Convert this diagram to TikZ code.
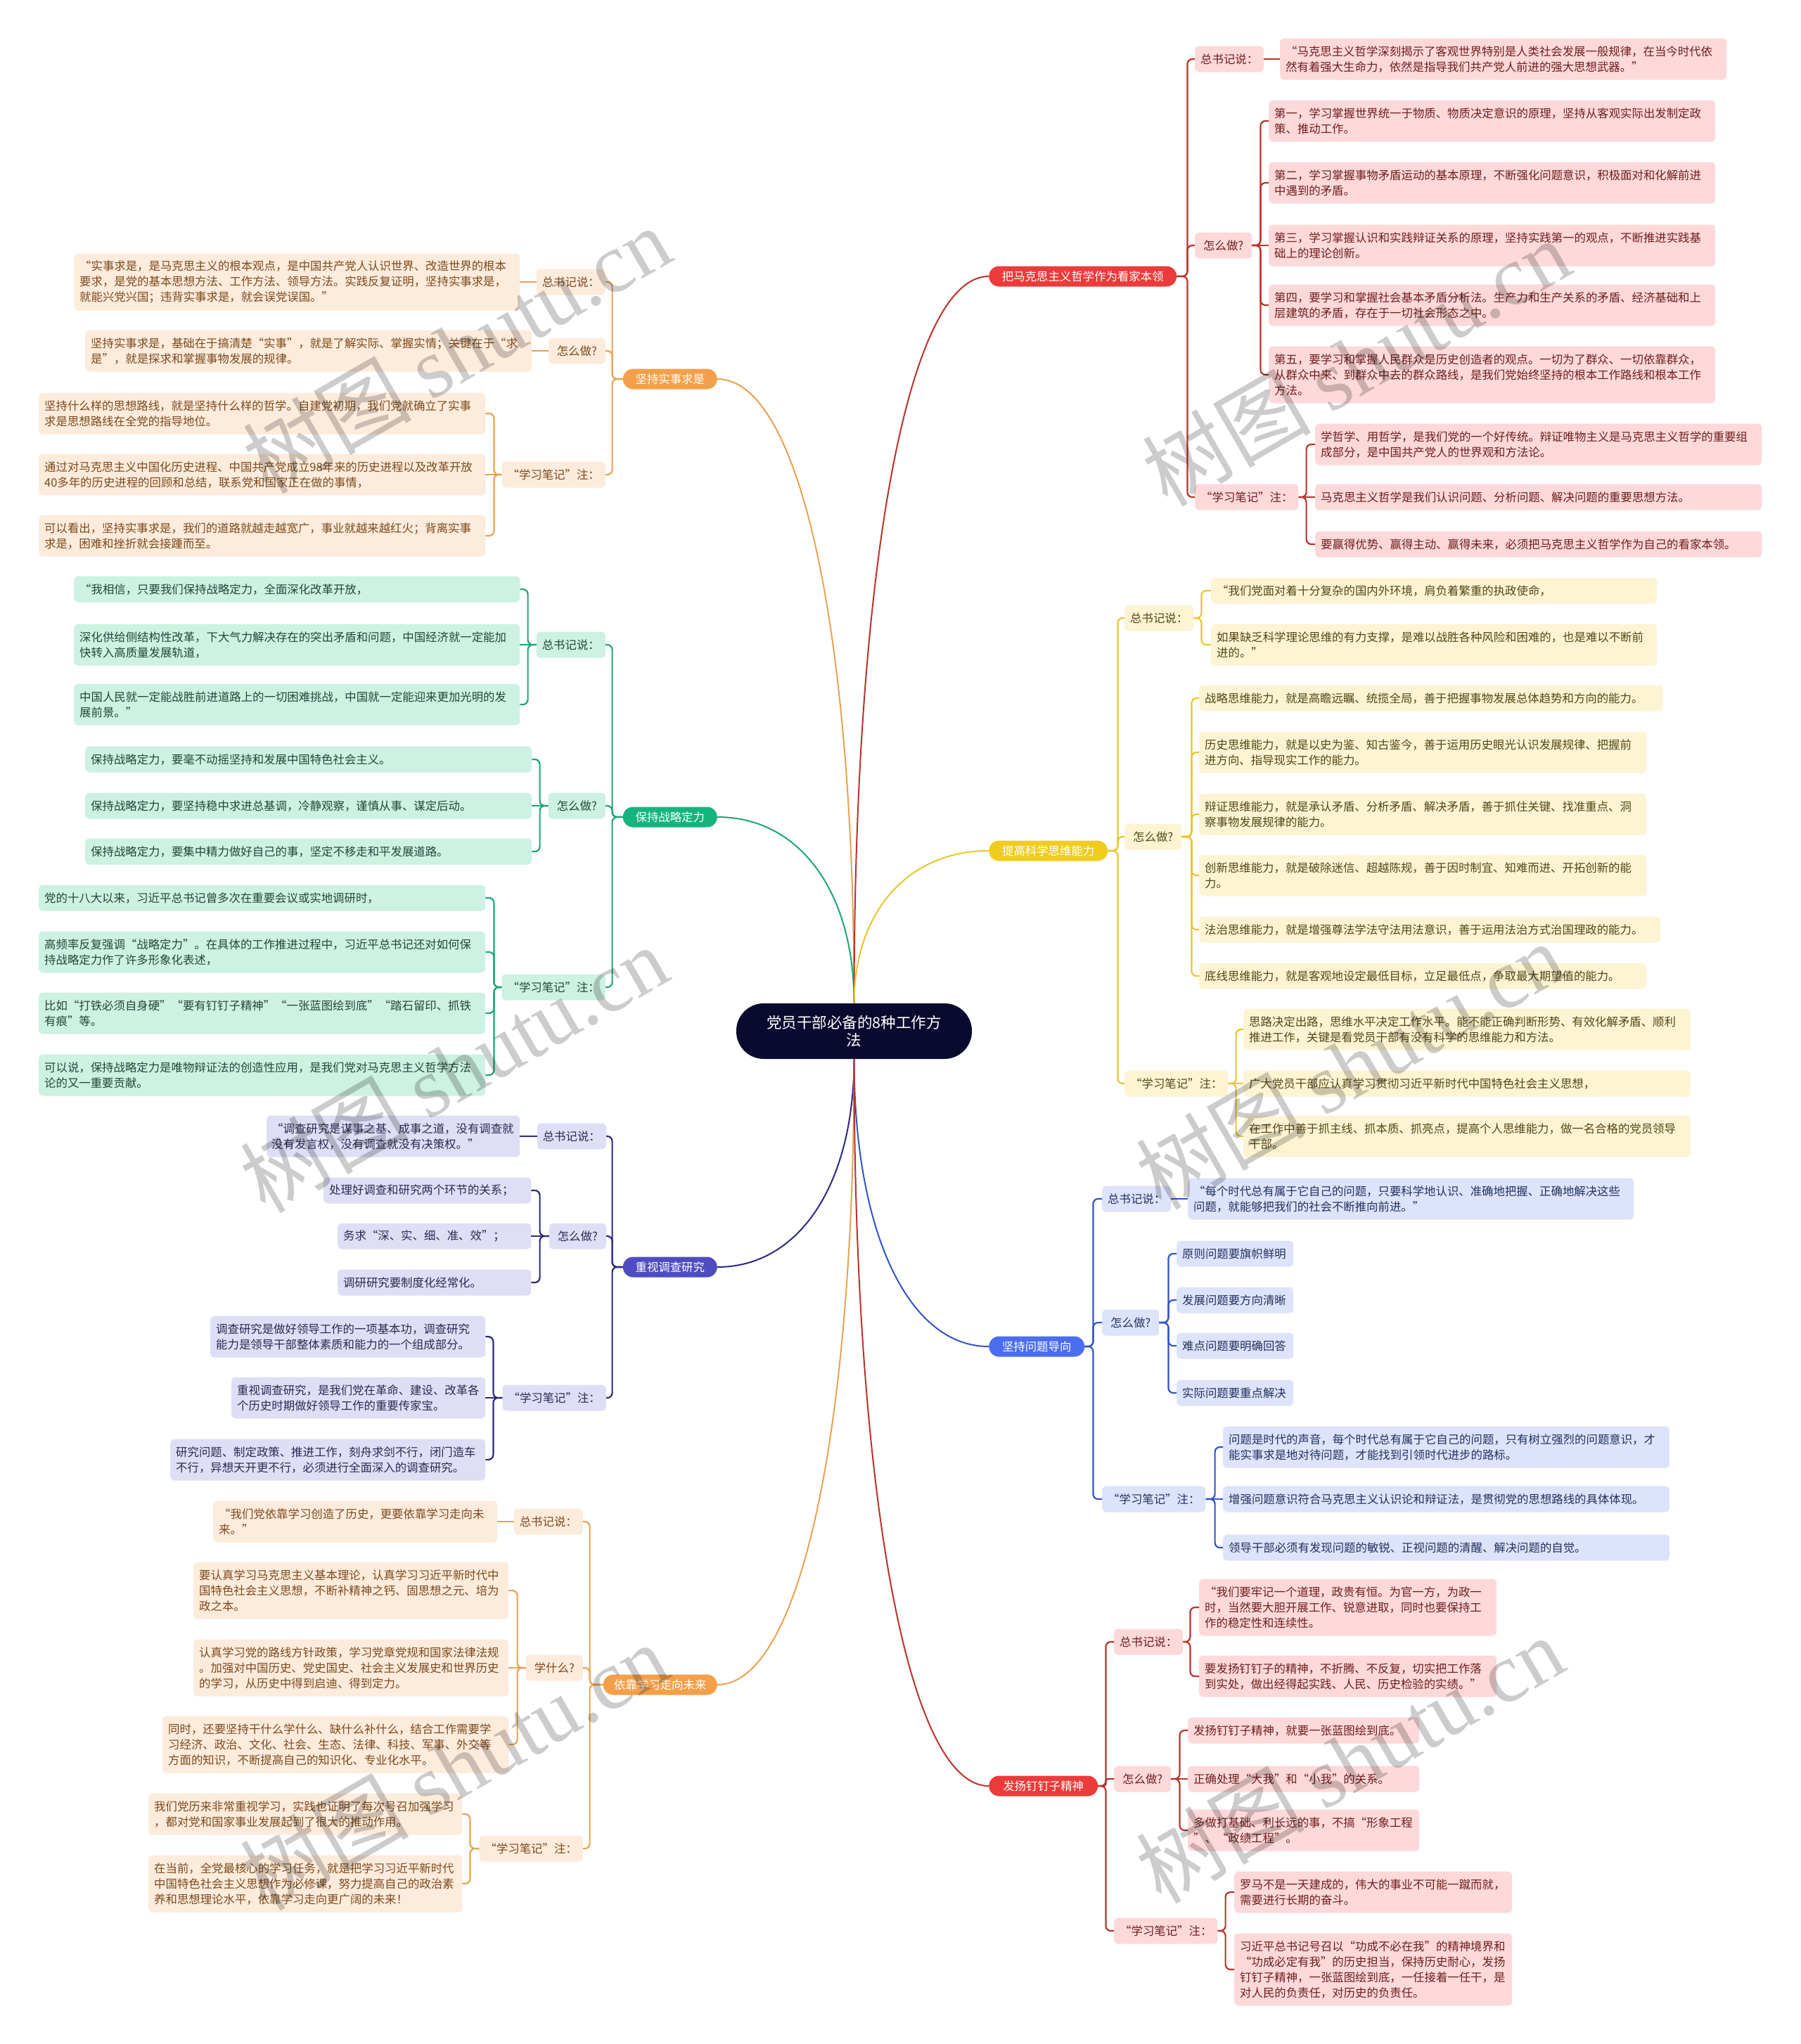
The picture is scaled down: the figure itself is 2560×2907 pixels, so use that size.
\documentclass[tikz,border=0pt]{standalone}
\usepackage{fontspec}
\setmainfont{Noto Sans CJK SC}
\newfontfamily\wmlatin{Liberation Serif}
\usetikzlibrary{calc}
\definecolor{oFill}{HTML}{FDEBDC}
\definecolor{oText}{HTML}{7B4A1C}
\definecolor{oLine}{HTML}{E9A254}
\definecolor{oBr}{HTML}{F4A04A}
\definecolor{gFill}{HTML}{CDF1E2}
\definecolor{gText}{HTML}{24463A}
\definecolor{gLine}{HTML}{1FA676}
\definecolor{gBr}{HTML}{14B47D}
\definecolor{pFill}{HTML}{DEDEF6}
\definecolor{pText}{HTML}{2A2A52}
\definecolor{pLine}{HTML}{2D2A7E}
\definecolor{pBr}{HTML}{4F4CC2}
\definecolor{rFill}{HTML}{FDD9D9}
\definecolor{rText}{HTML}{6E1E1E}
\definecolor{rLine}{HTML}{B8332C}
\definecolor{rBr}{HTML}{EC3B3B}
\definecolor{yFill}{HTML}{FCF4D3}
\definecolor{yText}{HTML}{544615}
\definecolor{yLine}{HTML}{EAC62A}
\definecolor{yBr}{HTML}{EECD20}
\definecolor{bFill}{HTML}{DCE3FA}
\definecolor{bText}{HTML}{22315E}
\definecolor{bLine}{HTML}{3354C6}
\definecolor{bBr}{HTML}{4B6DF0}
\definecolor{ctrFill}{HTML}{0A0A2E}
\newcommand{\bodyfont}{\fontsize{16.4pt}{22pt}\selectfont}
\newcommand{\ctrfont}{\fontsize{21.5pt}{25pt}\selectfont}
\newcommand{\wmfont}{\fontsize{120pt}{130pt}\selectfont}
\newcommand{\brcurve}[3]{\draw[#1] (ctr.#2) .. controls ($(ctr.#2)!0.6!(ctr.#2 |- #3)$) and ($(#3)!0.6!(ctr.#2 |- #3)$) .. (#3);}
\tikzset{
  box/.style={rectangle, rounded corners=6pt, inner xsep=8pt, inner ysep=2pt, align=left, font=\bodyfont},
  ln1/.style={minimum height=37pt},
  ln2/.style={minimum height=59pt},
  ln3/.style={minimum height=81pt},
  ln4/.style={minimum height=103pt},
  leafO/.style={box, fill=oFill, text=oText},
  leafG/.style={box, fill=gFill, text=gText},
  leafP/.style={box, fill=pFill, text=pText},
  leafR/.style={box, fill=rFill, text=rText},
  leafY/.style={box, fill=yFill, text=yText},
  leafB/.style={box, fill=bFill, text=bText},
  lab/.style={rectangle, rounded corners=6pt, inner xsep=8pt, inner ysep=2pt, minimum height=37pt, align=center, font=\bodyfont},
  labO/.style={lab, fill=oFill, text=oText},
  labG/.style={lab, fill=gFill, text=gText},
  labP/.style={lab, fill=pFill, text=pText},
  labR/.style={lab, fill=rFill, text=rText},
  labY/.style={lab, fill=yFill, text=yText},
  labB/.style={lab, fill=bFill, text=bText},
  wZ/.style={minimum width=98pt},
  wH/.style={minimum width=81pt},
  wN/.style={minimum width=147pt},
  pill/.style={rectangle, rounded corners=14.5pt, minimum height=29pt, inner xsep=14pt, inner ysep=2pt, text=white, font=\bodyfont},
  ctrnode/.style={rectangle, fill=ctrFill, rounded corners=39pt, minimum width=335pt, minimum height=79pt, text=white, font=\ctrfont, align=center},
  cO/.style={draw=oLine, line width=2.2pt, rounded corners=7pt},
  cG/.style={draw=gLine, line width=2.2pt, rounded corners=7pt},
  cP/.style={draw=pLine, line width=2.2pt, rounded corners=7pt},
  cR/.style={draw=rLine, line width=2.2pt, rounded corners=7pt},
  cY/.style={draw=yLine, line width=2.2pt, rounded corners=7pt},
  cB/.style={draw=bLine, line width=2.2pt, rounded corners=7pt},
  wm/.style={font=\wmfont, text=black, text opacity=0.2, inner sep=0pt}
}
\begin{document}
\begin{tikzpicture}[x=1pt,y=-1pt]
\useasboundingbox (0,0) rectangle (2560,2907);
\fill[white] (0,0) rectangle (2560,2907);

% ---------- centre ----------
\node[ctrnode] (ctr) at (1214.5,1466.5) {党员干部必备的8种工作方\\法};

% ---------- left orange: 坚持实事求是 ----------
\node[pill, fill=oBr, minimum width=134pt, anchor=east] (bO1) at (1020,539) {坚持实事求是};
\node[labO, wZ, anchor=east] (lO1a) at (861,401) {总书记说：};
\node[leafO, ln3, text width=618pt, anchor=west] (fO1a) at (105,401) {“实事求是，是马克思主义的根本观点，是中国共产党人认识世界、改造世界的根本\\要求，是党的基本思想方法、工作方法、领导方法。实践反复证明，坚持实事求是，\\就能兴党兴国；违背实事求是，就会误党误国。”};
\node[labO, wH, anchor=east] (lO1b) at (861,499) {怎么做?};
\node[leafO, ln2, text width=619pt, anchor=west] (fO1b) at (121,499) {坚持实事求是，基础在于搞清楚“实事”，就是了解实际、掌握实情；关键在于“求\\是”，就是探求和掌握事物发展的规律。};
\node[labO, wN, anchor=east] (lO1c) at (861,675) {“学习笔记”注：};
\node[leafO, ln2, text width=619pt, anchor=west] (fO1c1) at (55,588) {坚持什么样的思想路线，就是坚持什么样的哲学。自建党初期，我们党就确立了实事\\求是思想路线在全党的指导地位。};
\node[leafO, ln2, text width=619pt, anchor=west] (fO1c2) at (55,675) {通过对马克思主义中国化历史进程、中国共产党成立98年来的历史进程以及改革开放\\40多年的历史进程的回顾和总结，联系党和国家正在做的事情，};
\node[leafO, ln2, text width=619pt, anchor=west] (fO1c3) at (55,762) {可以看出，坚持实事求是，我们的道路就越走越宽广，事业就越来越红火；背离实事\\求是，困难和挫折就会接踵而至。};
\draw[cO] (bO1.west) -- ++(-15,0) |- (lO1a.east);
\draw[cO] (bO1.west) -- ++(-15,0) |- (lO1b.east);
\draw[cO] (bO1.west) -- ++(-15,0) |- (lO1c.east);
\draw[cO] (lO1a.west) -- (fO1a.east);
\draw[cO] (lO1b.west) -- (fO1b.east);
\draw[cO] (lO1c.west) -- ++(-11,0) |- (fO1c1.east);
\draw[cO] (lO1c.west) -- (fO1c2.east);
\draw[cO] (lO1c.west) -- ++(-11,0) |- (fO1c3.east);

% ---------- left green: 保持战略定力 ----------
\node[pill, fill=gBr, minimum width=134pt, anchor=east] (bG) at (1020,1162) {保持战略定力};
\node[labG, wZ, anchor=east] (lGa) at (861,917) {总书记说：};
\node[leafG, ln1, text width=618pt, anchor=west] (fGa1) at (105,838) {“我相信，只要我们保持战略定力，全面深化改革开放，};
\node[leafG, ln2, text width=618pt, anchor=west] (fGa2) at (105,917) {深化供给侧结构性改革，下大气力解决存在的突出矛盾和问题，中国经济就一定能加\\快转入高质量发展轨道，};
\node[leafG, ln2, text width=618pt, anchor=west] (fGa3) at (105,1002) {中国人民就一定能战胜前进道路上的一切困难挑战，中国就一定能迎来更加光明的发\\展前景。”};
\node[labG, wH, anchor=east] (lGb) at (861,1146) {怎么做?};
\node[leafG, ln1, text width=619pt, anchor=west] (fGb1) at (121,1080) {保持战略定力，要毫不动摇坚持和发展中国特色社会主义。};
\node[leafG, ln1, text width=619pt, anchor=west] (fGb2) at (121,1146) {保持战略定力，要坚持稳中求进总基调，冷静观察，谨慎从事、谋定后动。};
\node[leafG, ln1, text width=619pt, anchor=west] (fGb3) at (121,1211) {保持战略定力，要集中精力做好自己的事，坚定不移走和平发展道路。};
\node[labG, wN, anchor=east] (lGc) at (861,1404) {“学习笔记”注：};
\node[leafG, ln1, text width=619pt, anchor=west] (fGc1) at (55,1277) {党的十八大以来，习近平总书记曾多次在重要会议或实地调研时，};
\node[leafG, ln2, text width=619pt, anchor=west] (fGc2) at (55,1354) {高频率反复强调“战略定力”。在具体的工作推进过程中，习近平总书记还对如何保\\持战略定力作了许多形象化表述，};
\node[leafG, ln2, text width=619pt, anchor=west] (fGc3) at (55,1441) {比如“打铁必须自身硬”“要有钉钉子精神”“一张蓝图绘到底”“踏石留印、抓铁\\有痕”等。};
\node[leafG, ln2, text width=619pt, anchor=west] (fGc4) at (55,1529) {可以说，保持战略定力是唯物辩证法的创造性应用，是我们党对马克思主义哲学方法\\论的又一重要贡献。};
\draw[cG] (bG.west) -- ++(-15,0) |- (lGa.east);
\draw[cG] (bG.west) -- ++(-15,0) |- (lGb.east);
\draw[cG] (bG.west) -- ++(-15,0) |- (lGc.east);
\draw[cG] (lGa.west) -- ++(-12,0) |- (fGa1.east);
\draw[cG] (lGa.west) -- (fGa2.east);
\draw[cG] (lGa.west) -- ++(-12,0) |- (fGa3.east);
\draw[cG] (lGb.west) -- ++(-12,0) |- (fGb1.east);
\draw[cG] (lGb.west) -- (fGb2.east);
\draw[cG] (lGb.west) -- ++(-12,0) |- (fGb3.east);
\draw[cG] (lGc.west) -- ++(-11,0) |- (fGc1.east);
\draw[cG] (lGc.west) -- ++(-11,0) |- (fGc2.east);
\draw[cG] (lGc.west) -- ++(-11,0) |- (fGc3.east);
\draw[cG] (lGc.west) -- ++(-11,0) |- (fGc4.east);

% ---------- left purple: 重视调查研究 ----------
\node[pill, fill=pBr, minimum width=134pt, anchor=east] (bP) at (1020,1802) {重视调查研究};
\node[labP, wZ, anchor=east] (lPa) at (862,1616) {总书记说：};
\node[leafP, ln2, inner xsep=7pt, text width=346pt, anchor=west] (fPa) at (379,1616) {“调查研究是谋事之基、成事之道，没有调查就\\没有发言权，没有调查就没有决策权。”};
\node[labP, wH, anchor=east] (lPb) at (862,1758) {怎么做?};
\node[leafP, ln1, text width=279pt, anchor=west] (fPb1) at (460,1693) {处理好调查和研究两个环节的关系；};
\node[leafP, ln1, text width=259pt, anchor=west] (fPb2) at (480,1758) {务求“深、实、细、准、效”；};
\node[leafP, ln1, text width=259pt, anchor=west] (fPb3) at (480,1824) {调研研究要制度化经常化。};
\node[labP, wN, anchor=east] (lPc) at (862,1988) {“学习笔记”注：};
\node[leafP, ln2, text width=375pt, anchor=west] (fPc1) at (299,1901) {调查研究是做好领导工作的一项基本功，调查研究\\能力是领导干部整体素质和能力的一个组成部分。};
\node[leafP, ln2, text width=345pt, anchor=west] (fPc2) at (329,1988) {重视调查研究，是我们党在革命、建设、改革各\\个历史时期做好领导工作的重要传家宝。};
\node[leafP, ln2, text width=432pt, anchor=west] (fPc3) at (242,2076) {研究问题、制定政策、推进工作，刻舟求剑不行，闭门造车\\不行，异想天开更不行，必须进行全面深入的调查研究。};
\draw[cP] (bP.west) -- ++(-15,0) |- (lPa.east);
\draw[cP] (bP.west) -- ++(-15,0) |- (lPb.east);
\draw[cP] (bP.west) -- ++(-15,0) |- (lPc.east);
\draw[cP] (lPa.west) -- (fPa.east);
\draw[cP] (lPb.west) -- ++(-13,0) |- (fPb1.east);
\draw[cP] (lPb.west) -- (fPb2.east);
\draw[cP] (lPb.west) -- ++(-13,0) |- (fPb3.east);
\draw[cP] (lPc.west) -- ++(-13,0) |- (fPc1.east);
\draw[cP] (lPc.west) -- (fPc2.east);
\draw[cP] (lPc.west) -- ++(-13,0) |- (fPc3.east);

% ---------- left orange 2: 依靠学习走向未来 ----------
\node[pill, fill=oBr, minimum width=162pt, anchor=east] (bO2) at (1020,2396) {依靠学习走向未来};
\node[labO, wZ, anchor=east] (lO2a) at (829,2164) {总书记说：};
\node[leafO, ln2, text width=388pt, anchor=west] (fO2a) at (303,2164) {“我们党依靠学习创造了历史，更要依靠学习走向未\\来。”};
\node[labO, wH, anchor=east] (lO2b) at (829,2372) {学什么?};
\node[leafO, ln3, text width=432pt, anchor=west] (fO2b1) at (275,2262) {要认真学习马克思主义基本理论，认真学习习近平新时代中\\国特色社会主义思想，不断补精神之钙、固思想之元、培为\\政之本。};
\node[leafO, ln3, text width=432pt, anchor=west] (fO2b2) at (275,2372) {认真学习党的路线方针政策，学习党章党规和国家法律法规\\。加强对中国历史、党史国史、社会主义发展史和世界历史\\的学习，从历史中得到启迪、得到定力。};
\node[leafO, ln3, text width=476pt, anchor=west] (fO2b3) at (231,2481) {同时，还要坚持干什么学什么、缺什么补什么，结合工作需要学\\习经济、政治、文化、社会、生态、法律、科技、军事、外交等\\方面的知识，不断提高自己的知识化、专业化水平。};
\node[labO, wN, anchor=east] (lO2c) at (829,2629) {“学习笔记”注：};
\node[leafO, ln2, text width=430pt, anchor=west] (fO2c1) at (211,2580) {我们党历来非常重视学习，实践也证明了每次号召加强学习\\，都对党和国家事业发展起到了很大的推动作用。};
\node[leafO, ln3, text width=430pt, anchor=west] (fO2c2) at (211,2679) {在当前，全党最核心的学习任务，就是把学习习近平新时代\\中国特色社会主义思想作为必修课，努力提高自己的政治素\\养和思想理论水平，依靠学习走向更广阔的未来！};
\draw[cO] (bO2.west) -- ++(-19,0) |- (lO2a.east);
\draw[cO] (bO2.west) -- ++(-19,0) |- (lO2b.east);
\draw[cO] (bO2.west) -- ++(-19,0) |- (lO2c.east);
\draw[cO] (lO2a.west) -- (fO2a.east);
\draw[cO] (lO2b.west) -- ++(-12,0) |- (fO2b1.east);
\draw[cO] (lO2b.west) -- (fO2b2.east);
\draw[cO] (lO2b.west) -- ++(-12,0) |- (fO2b3.east);
\draw[cO] (lO2c.west) -- ++(-13,0) |- (fO2c1.east);
\draw[cO] (lO2c.west) -- ++(-13,0) |- (fO2c2.east);

% ---------- right red: 把马克思主义哲学作为看家本领 ----------
\node[pill, fill=rBr, minimum width=267pt, anchor=west] (bR1) at (1406,393) {把马克思主义哲学作为看家本领};
\node[labR, wZ, anchor=west] (lR1a) at (1699,84) {总书记说：};
\node[leafR, ln2, text width=619pt, anchor=west] (fR1a) at (1820,84) {“马克思主义哲学深刻揭示了客观世界特别是人类社会发展一般规律，在当今时代依\\然有着强大生命力，依然是指导我们共产党人前进的强大思想武器。”};
\node[labR, wH, anchor=west] (lR1b) at (1699,349) {怎么做?};
\node[leafR, ln2, text width=619pt, anchor=west] (fR1b1) at (1804,172) {第一，学习掌握世界统一于物质、物质决定意识的原理，坚持从客观实际出发制定政\\策、推动工作。};
\node[leafR, ln2, text width=619pt, anchor=west] (fR1b2) at (1804,260) {第二，学习掌握事物矛盾运动的基本原理，不断强化问题意识，积极面对和化解前进\\中遇到的矛盾。};
\node[leafR, ln2, text width=619pt, anchor=west] (fR1b3) at (1804,349) {第三，学习掌握认识和实践辩证关系的原理，坚持实践第一的观点，不断推进实践基\\础上的理论创新。};
\node[leafR, ln2, text width=619pt, anchor=west] (fR1b4) at (1804,434) {第四，要学习和掌握社会基本矛盾分析法。生产力和生产关系的矛盾、经济基础和上\\层建筑的矛盾，存在于一切社会形态之中。};
\node[leafR, ln3, text width=619pt, anchor=west] (fR1b5) at (1804,533) {第五，要学习和掌握人民群众是历史创造者的观点。一切为了群众、一切依靠群众，\\从群众中来、到群众中去的群众路线，是我们党始终坚持的根本工作路线和根本工作\\方法。};
\node[labR, wN, anchor=west] (lR1c) at (1699,707) {“学习笔记”注：};
\node[leafR, ln2, text width=619pt, anchor=west] (fR1c1) at (1870,632) {学哲学、用哲学，是我们党的一个好传统。辩证唯物主义是马克思主义哲学的重要组\\成部分，是中国共产党人的世界观和方法论。};
\node[leafR, ln1, text width=619pt, anchor=west] (fR1c2) at (1870,707) {马克思主义哲学是我们认识问题、分析问题、解决问题的重要思想方法。};
\node[leafR, ln1, text width=619pt, anchor=west] (fR1c3) at (1870,774) {要赢得优势、赢得主动、赢得未来，必须把马克思主义哲学作为自己的看家本领。};
\draw[cR] (bR1.east) -- ++(15,0) |- (lR1a.west);
\draw[cR] (bR1.east) -- ++(15,0) |- (lR1b.west);
\draw[cR] (bR1.east) -- ++(15,0) |- (lR1c.west);
\draw[cR] (lR1a.east) -- (fR1a.west);
\draw[cR] (lR1b.east) -- ++(12,0) |- (fR1b1.west);
\draw[cR] (lR1b.east) -- ++(12,0) |- (fR1b2.west);
\draw[cR] (lR1b.east) -- (fR1b3.west);
\draw[cR] (lR1b.east) -- ++(12,0) |- (fR1b4.west);
\draw[cR] (lR1b.east) -- ++(12,0) |- (fR1b5.west);
\draw[cR] (lR1c.east) -- ++(11,0) |- (fR1c1.west);
\draw[cR] (lR1c.east) -- (fR1c2.west);
\draw[cR] (lR1c.east) -- ++(11,0) |- (fR1c3.west);

% ---------- right yellow: 提高科学思维能力 ----------
\node[pill, fill=yBr, minimum width=169pt, anchor=west] (bY) at (1406,1210) {提高科学思维能力};
\node[labY, wZ, anchor=west] (lYa) at (1599,879) {总书记说：};
\node[leafY, ln1, text width=618pt, anchor=west] (fYa1) at (1722,840) {“我们党面对着十分复杂的国内外环境，肩负着繁重的执政使命，};
\node[leafY, ln2, text width=618pt, anchor=west] (fYa2) at (1722,917) {如果缺乏科学理论思维的有力支撑，是难以战胜各种风险和困难的，也是难以不断前\\进的。”};
\node[labY, wH, anchor=west] (lYb) at (1599,1190) {怎么做?};
\node[leafY, ln1, text width=643pt, anchor=west] (fYb1) at (1705,993) {战略思维能力，就是高瞻远瞩、统揽全局，善于把握事物发展总体趋势和方向的能力。};
\node[leafY, ln2, text width=620pt, anchor=west] (fYb2) at (1705,1070) {历史思维能力，就是以史为鉴、知古鉴今，善于运用历史眼光认识发展规律、把握前\\进方向、指导现实工作的能力。};
\node[leafY, ln2, text width=620pt, anchor=west] (fYb3) at (1705,1158) {辩证思维能力，就是承认矛盾、分析矛盾、解决矛盾，善于抓住关键、找准重点、洞\\察事物发展规律的能力。};
\node[leafY, ln2, text width=620pt, anchor=west] (fYb4) at (1705,1245) {创新思维能力，就是破除迷信、超越陈规，善于因时制宜、知难而进、开拓创新的能\\力。};
\node[leafY, ln1, text width=640pt, anchor=west] (fYb5) at (1705,1322) {法治思维能力，就是增强尊法学法守法用法意识，善于运用法治方式治国理政的能力。};
\node[leafY, ln1, text width=620pt, anchor=west] (fYb6) at (1705,1388) {底线思维能力，就是客观地设定最低目标，立足最低点，争取最大期望值的能力。};
\node[labY, wN, anchor=west] (lYc) at (1599,1541) {“学习笔记”注：};
\node[leafY, ln2, text width=620pt, anchor=west] (fYc1) at (1768,1464) {思路决定出路，思维水平决定工作水平。能不能正确判断形势、有效化解矛盾、顺利\\推进工作，关键是看党员干部有没有科学的思维能力和方法。};
\node[leafY, ln1, text width=620pt, anchor=west] (fYc2) at (1768,1541) {广大党员干部应认真学习贯彻习近平新时代中国特色社会主义思想，};
\node[leafY, ln2, text width=620pt, anchor=west] (fYc3) at (1768,1616) {在工作中善于抓主线、抓本质、抓亮点，提高个人思维能力，做一名合格的党员领导\\干部。};
\draw[cY] (bY.east) -- ++(14,0) |- (lYa.west);
\draw[cY] (bY.east) -- ++(14,0) |- (lYb.west);
\draw[cY] (bY.east) -- ++(14,0) |- (lYc.west);
\draw[cY] (lYa.east) -- ++(11,0) |- (fYa1.west);
\draw[cY] (lYa.east) -- ++(11,0) |- (fYa2.west);
\draw[cY] (lYb.east) -- ++(14,0) |- (fYb1.west);
\draw[cY] (lYb.east) -- ++(14,0) |- (fYb2.west);
\draw[cY] (lYb.east) -- ++(14,0) |- (fYb3.west);
\draw[cY] (lYb.east) -- ++(14,0) |- (fYb4.west);
\draw[cY] (lYb.east) -- ++(14,0) |- (fYb5.west);
\draw[cY] (lYb.east) -- ++(14,0) |- (fYb6.west);
\draw[cY] (lYc.east) -- ++(11,0) |- (fYc1.west);
\draw[cY] (lYc.east) -- (fYc2.west);
\draw[cY] (lYc.east) -- ++(11,0) |- (fYc3.west);

% ---------- right blue: 坚持问题导向 ----------
\node[pill, fill=bBr, minimum width=136pt, anchor=west] (bB) at (1406,1915) {坚持问题导向};
\node[labB, wZ, anchor=west] (lBa) at (1567,1705) {总书记说：};
\node[leafB, ln2, text width=618pt, anchor=west] (fBa) at (1689,1705) {“每个时代总有属于它自己的问题，只要科学地认识、准确地把握、正确地解决这些\\问题，就能够把我们的社会不断推向前进。”};
\node[labB, wH, anchor=west] (lBb) at (1567,1881) {怎么做?};
\node[leafB, ln1, text width=150pt, anchor=west] (fBb1) at (1673,1783) {原则问题要旗帜鲜明};
\node[leafB, ln1, text width=150pt, anchor=west] (fBb2) at (1673,1849) {发展问题要方向清晰};
\node[leafB, ln1, text width=150pt, anchor=west] (fBb3) at (1673,1914) {难点问题要明确回答};
\node[leafB, ln1, text width=150pt, anchor=west] (fBb4) at (1673,1981) {实际问题要重点解决};
\node[labB, wN, anchor=west] (lBc) at (1567,2132) {“学习笔记”注：};
\node[leafB, ln2, text width=619pt, anchor=west] (fBc1) at (1739,2058) {问题是时代的声音，每个时代总有属于它自己的问题，只有树立强烈的问题意识，才\\能实事求是地对待问题，才能找到引领时代进步的路标。};
\node[leafB, ln1, text width=619pt, anchor=west] (fBc2) at (1739,2132) {增强问题意识符合马克思主义认识论和辩证法，是贯彻党的思想路线的具体体现。};
\node[leafB, ln1, text width=619pt, anchor=west] (fBc3) at (1739,2201) {领导干部必须有发现问题的敏锐、正视问题的清醒、解决问题的自觉。};
\draw[cB] (bB.east) -- ++(12,0) |- (lBa.west);
\draw[cB] (bB.east) -- ++(12,0) |- (lBb.west);
\draw[cB] (bB.east) -- ++(12,0) |- (lBc.west);
\draw[cB] (lBa.east) -- (fBa.west);
\draw[cB] (lBb.east) -- ++(13,0) |- (fBb1.west);
\draw[cB] (lBb.east) -- ++(13,0) |- (fBb2.west);
\draw[cB] (lBb.east) -- ++(13,0) |- (fBb3.west);
\draw[cB] (lBb.east) -- ++(13,0) |- (fBb4.west);
\draw[cB] (lBc.east) -- ++(13,0) |- (fBc1.west);
\draw[cB] (lBc.east) -- (fBc2.west);
\draw[cB] (lBc.east) -- ++(13,0) |- (fBc3.west);

% ---------- right red 2: 发扬钉钉子精神 ----------
\node[pill, fill=rBr, minimum width=155pt, anchor=west] (bR2) at (1406,2540) {发扬钉钉子精神};
\node[labR, wZ, anchor=west] (lR2a) at (1584,2335) {总书记说：};
\node[leafR, ln3, text width=407pt, anchor=west] (fR2a1) at (1705,2286) {“我们要牢记一个道理，政贵有恒。为官一方，为政一\\时，当然要大胆开展工作、锐意进取，同时也要保持工\\作的稳定性和连续性。};
\node[leafR, ln2, text width=407pt, anchor=west] (fR2a2) at (1705,2384) {要发扬钉钉子的精神，不折腾、不反复，切实把工作落\\到实处，做出经得起实践、人民、历史检验的实绩。”};
\node[labR, wH, anchor=west] (lR2b) at (1584,2530) {怎么做?};
\node[leafR, ln1, text width=313pt, anchor=west] (fR2b1) at (1689,2461) {发扬钉钉子精神，就要一张蓝图绘到底。};
\node[leafR, ln1, text width=313pt, anchor=west] (fR2b2) at (1689,2530) {正确处理“大我”和“小我”的关系。};
\node[leafR, ln2, text width=313pt, anchor=west] (fR2b3) at (1689,2603) {多做打基础、利长远的事，不搞“形象工程\\”、“政绩工程”。};
\node[labR, wN, anchor=west] (lR2c) at (1584,2746) {“学习笔记”注：};
\node[leafR, ln2, text width=379pt, anchor=west] (fR2c1) at (1755,2691) {罗马不是一天建成的，伟大的事业不可能一蹴而就，\\需要进行长期的奋斗。};
\node[leafR, ln4, text width=379pt, anchor=west] (fR2c2) at (1755,2801) {习近平总书记号召以“功成不必在我”的精神境界和\\“功成必定有我”的历史担当，保持历史耐心，发扬\\钉钉子精神，一张蓝图绘到底，一任接着一任干，是\\对人民的负责任，对历史的负责任。};
\draw[cR] (bR2.east) -- ++(11,0) |- (lR2a.west);
\draw[cR, rounded corners=3pt] (bR2.east) -- ++(11,0) |- (lR2b.west);
\draw[cR] (bR2.east) -- ++(11,0) |- (lR2c.west);
\draw[cR] (lR2a.east) -- ++(10,0) |- (fR2a1.west);
\draw[cR] (lR2a.east) -- ++(10,0) |- (fR2a2.west);
\draw[cR] (lR2b.east) -- ++(12,0) |- (fR2b1.west);
\draw[cR] (lR2b.east) -- (fR2b2.west);
\draw[cR] (lR2b.east) -- ++(12,0) |- (fR2b3.west);
\draw[cR] (lR2c.east) -- ++(11,0) |- (fR2c1.west);
\draw[cR] (lR2c.east) -- ++(11,0) |- (fR2c2.west);

% ---------- centre curves ----------
\brcurve{oLine, line width=2pt}{north}{bO1.east}
\brcurve{gLine, line width=2pt}{north}{bG.east}
\brcurve{rLine, line width=2pt}{north}{bR1.west}
\brcurve{yLine, line width=2pt}{north}{bY.west}
\brcurve{pLine, line width=2pt}{south}{bP.east}
\brcurve{oLine, line width=2pt}{south}{bO2.east}
\brcurve{bLine, line width=2pt}{south}{bB.west}
\brcurve{rLine, line width=2pt}{south}{bR2.west}

% ---------- watermarks ----------
\node[wm, rotate=30] (wm1) at (649,497) {树图 {\wmlatin shutu.cn}};
\node[wm, rotate=30] (wm2) at (1928,515) {树图 {\wmlatin shutu.cn}};
\node[wm, rotate=30] (wm3) at (645,1520) {树图 {\wmlatin shutu.cn}};
\node[wm, rotate=30] (wm4) at (1919,1515) {树图 {\wmlatin shutu.cn}};
\node[wm, rotate=30] (wm5) at (645,2512) {树图 {\wmlatin shutu.cn}};
\node[wm, rotate=30] (wm6) at (1919,2502) {树图 {\wmlatin shutu.cn}};
\end{tikzpicture}
\end{document}
